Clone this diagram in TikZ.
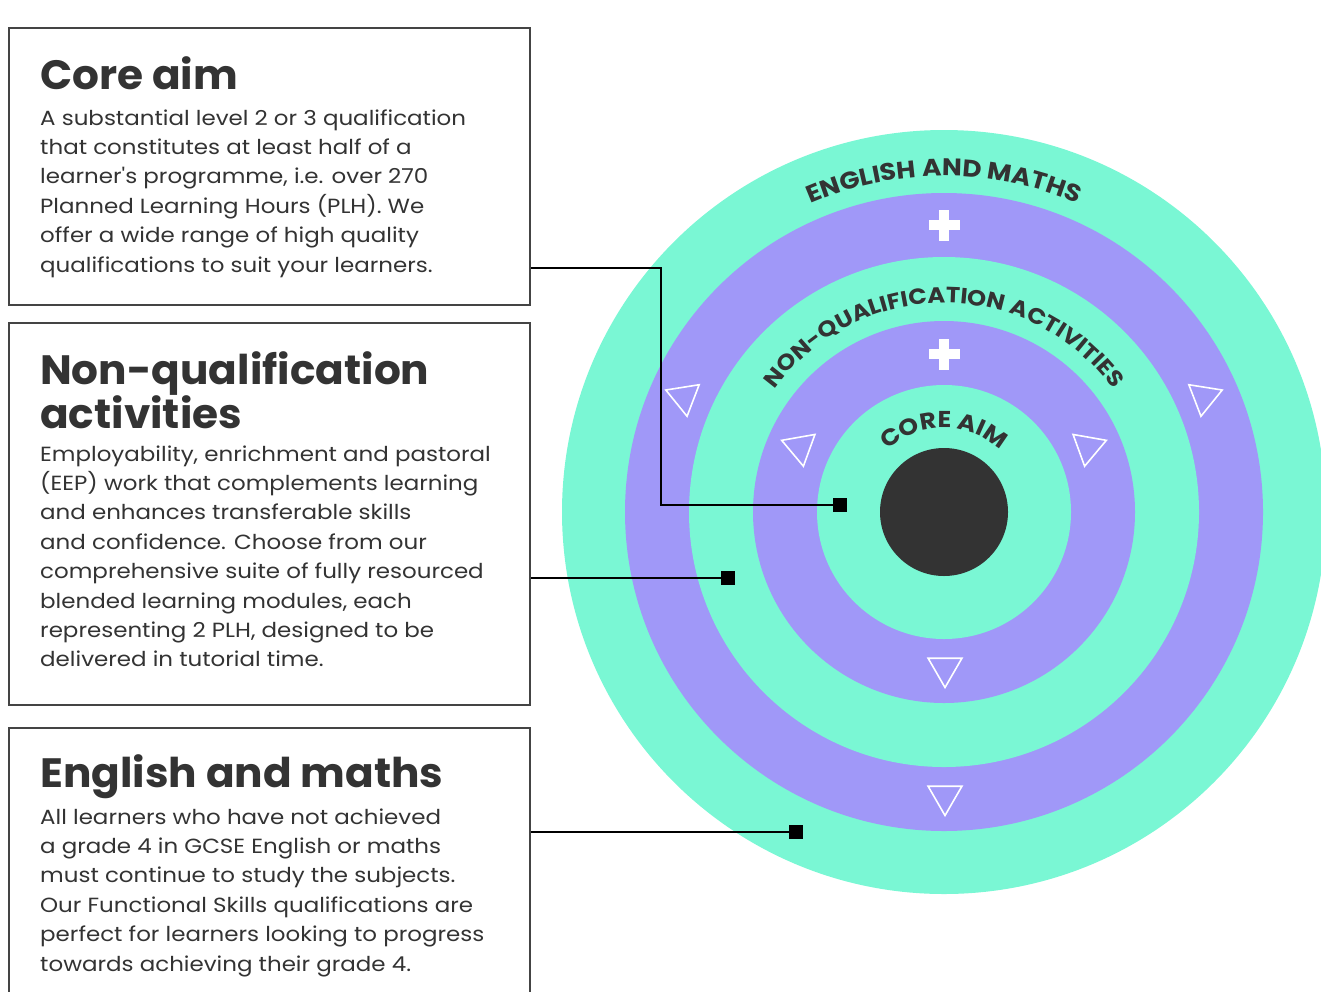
\documentclass[tikz,border=0pt]{standalone}
\usepackage{fontspec}
\setmainfont{Poppins}
\newfontfamily\bodyfont[FakeStretch=1.12]{Poppins}
\newfontfamily\headfont[FakeStretch=1.03]{Poppins}
\newfontfamily\arcfont[FakeStretch=1.1]{Poppins}
\usetikzlibrary{decorations.text,shapes.geometric}
\definecolor{mint}{HTML}{7AF7D4}
\definecolor{lilac}{HTML}{A098F8}
\definecolor{ink}{HTML}{333333}
\definecolor{boxline}{HTML}{444444}
\begin{document}
\begin{tikzpicture}[x=1pt,y=-1pt,
  infobox/.style={draw=boxline, line width=2.2pt, anchor=north west, inner sep=0pt, minimum width=521pt},
  titletext/.style={anchor=base west, inner sep=0pt, text=ink, font=\headfont\fontsize{41}{42}\selectfont\bfseries},
  bodytext/.style={anchor=base west, inner sep=0pt, text=ink, font=\bodyfont\fontsize{20.5}{29.4}\selectfont},
  tri/.style={regular polygon, regular polygon sides=3, shape border rotate=180, draw=white, line width=1.6pt, minimum size=39pt, inner sep=0pt},
  conn/.style={draw=black, line width=2pt},
  pin/.style={fill=black, minimum size=14pt, inner sep=0pt},
  plusbar/.style={fill=white},
]
\useasboundingbox (0,0) rectangle (1321,991);
\clip (0,0) rectangle (1321,991);
% rings
\fill[mint] (944,512) circle (382);
\fill[lilac] (944,512) circle (319);
\fill[mint] (944,512) circle (255);
\fill[lilac] (944,512) circle (191);
\fill[mint] (944,512) circle (127);
\fill[ink] (944,512) circle (64);
% curved labels
\path[decorate, decoration={text along path, text align=center, text color=ink,
  text={|\arcfont\fontsize{24}{24}\selectfont\bfseries|ENGLISH AND MATHS}}]
  (944,512) ++(180:336) arc (180:360:336);
\path[decorate, decoration={text along path, text align=center, text color=ink,
  text={|\arcfont\fontsize{22}{22}\selectfont\bfseries|NON-QUALIFICATION ACTIVITIES}}]
  (944,512) ++(180:209) arc (180:360:209);
\path[decorate, decoration={text along path, text align=center, text color=ink,
  text={|\arcfont\fontsize{23}{23}\selectfont\bfseries|CORE AIM}}]
  (944,512) ++(180:84) arc (180:360:84);
% plus signs
\fill[plusbar] (939,209.5) rectangle (949,240.5);
\fill[plusbar] (928.5,220) rectangle (959.5,230);
\fill[plusbar] (939,338.5) rectangle (949,369.5);
\fill[plusbar] (928.5,349) rectangle (959.5,359);
% triangles
\node[tri, rotate=9]  (ta) at (684,397) {};
\node[tri, rotate=-9] (tb) at (1204,397) {};
\node[tri, rotate=10] (tc) at (800,447) {};
\node[tri, rotate=-10](td) at (1088,447) {};
\node[tri] (te) at (945,668) {};
\node[tri] (tf) at (945,796) {};
% boxes
\node[infobox, minimum height=277pt] (b1) at (8,27) {};
\node[infobox, minimum height=382pt] (b2) at (8,322) {};
\node[infobox, minimum height=280pt] (b3) at (8,727) {};
% titles
\node[titletext] (h1) at (40,89) {Core aim};
\node[titletext] (h2) at (40,384) {\parbox[t]{480pt}{Non-qualification\\activities}};
\node[titletext] (h3) at (40,787) {English and maths};
% bodies
\node[bodytext] (x1) at (40,125) {\parbox[t]{480pt}{A substantial level 2 or 3 qualification\\that constitutes at least half of a\\learner\char"0027 s programme, i.e. over 270\\Planned Learning Hours (PLH). We\\offer a wide range of high quality\\qualifications to suit your learners.}};
\node[bodytext] (x2) at (40,461) {\parbox[t]{480pt}{Employability, enrichment and pastoral\\(EEP) work that complements learning\\and enhances transferable skills\\and confidence. Choose from our\\comprehensive suite of fully resourced\\blended learning modules, each\\representing 2 PLH, designed to be\\delivered in tutorial time.}};
\node[bodytext] (x3) at (40,824) {\parbox[t]{480pt}{All learners who have not achieved\\a grade 4 in GCSE English or maths\\must continue to study the subjects.\\Our Functional Skills qualifications are\\perfect for learners looking to progress\\towards achieving their grade 4.}};
% connectors
\node[pin] (p1) at (840,505) {};
\node[pin] (p2) at (728,578) {};
\node[pin] (p3) at (796,832) {};
\coordinate (k1) at (661,268);
\draw[conn] (b1.east |- k1) -- (k1) |- (p1.west);
\draw[conn] (b2.east |- p2) -- (p2.west);
\draw[conn] (b3.east |- p3) -- (p3.west);
\end{tikzpicture}
\end{document}
